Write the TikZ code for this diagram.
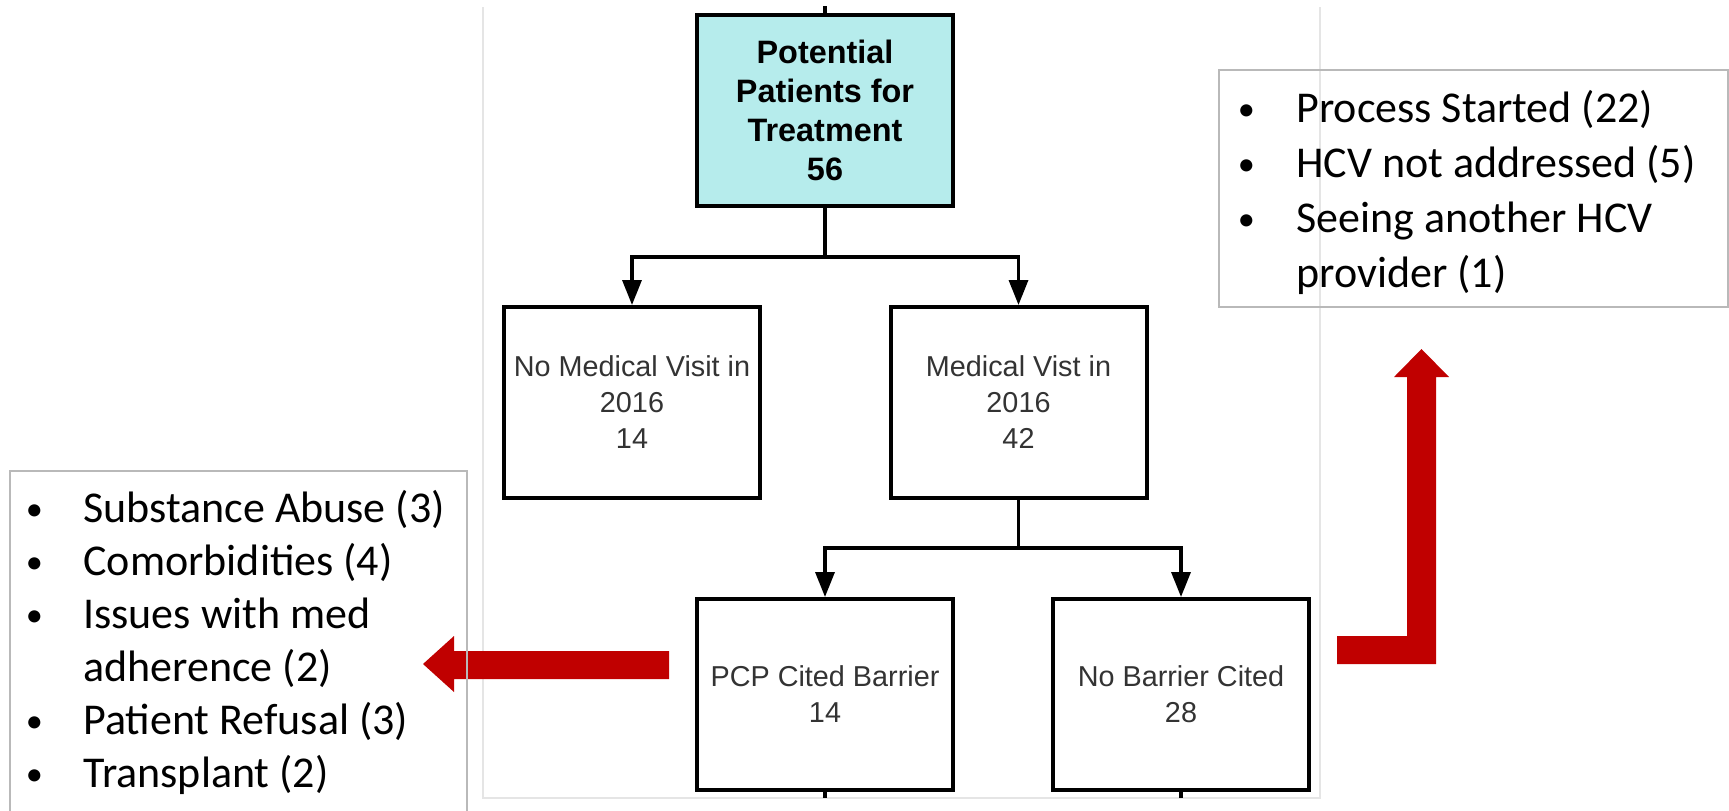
\documentclass[tikz,border=0pt]{standalone}
\usepackage{fontspec}
\usepackage{graphicx}
\setmainfont{Liberation Sans}
\newfontfamily\listfont{Carlito}
\usetikzlibrary{arrows.meta,positioning}
\definecolor{boxfill}{HTML}{B6ECEC}
\definecolor{arrred}{HTML}{C00000}
\definecolor{txtgray}{HTML}{333333}
\tikzset{
  blk/.style={draw, line width=2pt, minimum width=128pt, minimum height=95.5pt, inner sep=2pt, align=center, text=txtgray, font=\fontsize{14.4}{18}\selectfont},
  startblk/.style={blk, fill=boxfill, text=black, font=\bfseries\fontsize{16.2}{19.5}\selectfont},
  arr/.style={-{Triangle[length=12.5pt, width=9.5pt]}, line width=1.7pt},
  lnk/.style={line width=1.7pt},
  listbox/.style={draw=gray!55, line width=1pt},
  listtxt/.style={anchor=base west, inner sep=0pt, font=\listfont\fontsize{22}{26.5}\selectfont},
  frameln/.style={gray!20, line width=0.6pt},
}
\newcommand{\blt}{\makebox[0pt]{\raisebox{0.03em}{\scalebox{0.78}{\textbullet}}}}

\begin{document}
\begin{tikzpicture}[x=0.5pt, y=-0.5pt]
  \useasboundingbox (0,0) rectangle (1729,810);
  % edge of the chart image
  \draw[frameln] (483,7) -- (483,798) -- (1320,798) -- (1320,7);
  % flow chart
  \node[startblk] (pot) at (825,110.5) {Potential\\Patients for\\Treatment\\56};
  \node[blk] (novisit) at (632,402.5) {No Medical Visit in\\2016\\14};
  \node[blk] (visit) at (1018.5,402.5) {Medical Vist in\\2016\\42};
  \node[blk] (pcp) at (825,694.5) {PCP Cited Barrier\\14};
  \node[blk] (nobar) at (1181,694.5) {No Barrier Cited\\28};
  \coordinate (split1) at (825,257);
  \coordinate (split2) at (1018.5,548);
  \draw[lnk] (pot.south) -- (split1);
  \draw[arr] (split1) -| (novisit.north);
  \draw[arr] (split1) -| (visit.north);
  \draw[lnk] (visit.south) -- (split2);
  \draw[arr] (split2) -| (pcp.north);
  \draw[arr] (split2) -| (nobar.north);
  % stubs cut off by the crop
  \draw[lnk] (pot.north) -- ++(0,-7);
  \draw[lnk] (pcp.south) -- ++(0,6);
  \draw[lnk] (nobar.south) -- ++(0,6);
  % red block arrows
  \fill[arrred] (669,651) -- (454,651) -- (454,636) -- (423,664) -- (454,692) -- (454,679) -- (669,679) -- cycle;
  \fill[arrred] (1337,636) -- (1407,636) -- (1407,377) -- (1394,377) -- (1421.5,349) -- (1449,377) -- (1436,377) -- (1436,664) -- (1337,664) -- cycle;
  % barrier list
  \draw[listbox] (10,471) rectangle (467,830);
  \node[listtxt] (barriers) at (34,522) {\begin{tabular}[t]{@{}l@{\hspace{24.5pt}}l@{}}
    \blt & Substance Abuse (3)\\
    \blt & Comorbidities (4)\\
    \blt & Issues with med\\
         & adherence (2)\\
    \blt & Patient Refusal (3)\\
    \blt & Transplant (2)
  \end{tabular}};
  % outcome list
  \draw[listbox] (1219,70) rectangle (1728,307);
  \node[listtxt, font=\listfont\fontsize{22}{27.5}\selectfont] (outcomes) at (1246,122) {\begin{tabular}[t]{@{}l@{\hspace{25pt}}l@{}}
    \blt & Process Started (22)\\
    \blt & HCV not addressed (5)\\
    \blt & Seeing another HCV\\
         & provider (1)
  \end{tabular}};
\end{tikzpicture}
\end{document}
